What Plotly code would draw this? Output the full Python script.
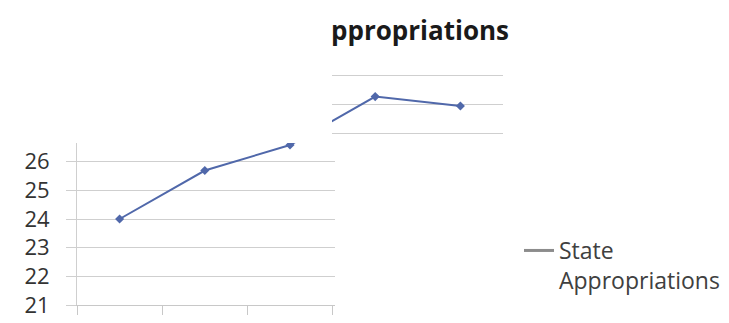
import plotly.graph_objects as go

# ---- data ----
categories = ["Y1", "Y2", "Y3", "Y4", "Y5"]
state_appropriations = [24.0, 25.69, 26.58, 28.27, 27.94]
y_tick_vals = [21, 22, 23, 24, 25, 26, 27, 28, 29, 30]
title_text = "ppropriations"
legend_name = "State<br>Appropriations"

W, H = 729, 323
L, R, T, B = 77, 226, 47, 18
PW, PH = W - L - R, H - T - B


def px(x):
    return (x - L) / PW


def py(y):
    return (H - B - y) / PH


FONT = "Open Sans"
fig = go.Figure()
fig.add_trace(go.Scatter(
    x=categories, y=state_appropriations, mode="lines+markers",
    line=dict(color="#5068aa", width=2),
    marker=dict(symbol="diamond", size=7, color="#5068aa"),
    showlegend=False,
))
fig.add_trace(go.Scatter(
    x=[None], y=[None], mode="lines", name=legend_name,
    line=dict(color="#8c8c8c", width=3), showlegend=True,
))

masks = [
    (0, 0, W, 62),
    (0, 0, 332, 143),
    (505, 0, W, H),
    (335, 138, W, H),
]
shapes = [dict(type="rect", xref="paper", yref="paper",
               x0=px(a), x1=px(c), y0=py(d), y1=py(b),
               fillcolor="white", line=dict(width=0), layer="above")
          for a, b, c, d in masks]

fig.update_layout(
    width=W, height=H,
    margin=dict(l=L, r=R, t=T, b=B, autoexpand=False),
    paper_bgcolor="white", plot_bgcolor="white",
    font=dict(family=FONT, color="#404040"),
    shapes=shapes,
    annotations=[dict(text="<b>%s</b>" % title_text, xref="paper", yref="paper",
                      x=px(329), y=py(30), xanchor="left", yanchor="middle",
                      showarrow=False, font=dict(family=FONT, size=26, color="#1a1a1a"))],
    legend=dict(x=px(519), y=py(229), xanchor="left", yanchor="top",
                valign="top", bgcolor="rgba(0,0,0,0)",
                font=dict(family=FONT, size=23, color="#404040")),
    xaxis=dict(type="category", showgrid=False, showline=True, linecolor="#c8c8c8",
               ticks="outside", tickson="boundaries", ticklen=9, tickcolor="#c8c8c8",
               showticklabels=False, range=[-0.5, 4.5], fixedrange=True, automargin=False),
    yaxis=dict(range=[21, 30], tickvals=y_tick_vals, showgrid=True, gridcolor="#cfcfcf",
               showline=True, linecolor="#cfcfcf", ticks="outside", ticklen=10,
               tickcolor="#cfcfcf", ticklabelstandoff=12, zeroline=False, automargin=False,
               tickfont=dict(family=FONT, size=22, color="#333333")),
)
fig.write_html("out.html")
